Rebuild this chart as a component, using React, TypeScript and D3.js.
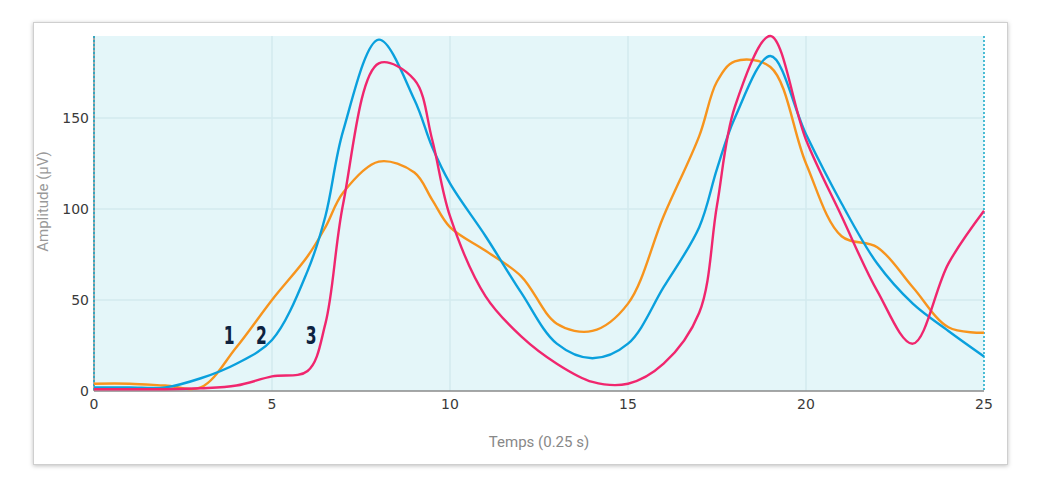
import React, { useEffect, useRef } from 'react';
import * as d3 from 'd3';

const WIDTH = 1043;
const HEIGHT = 494;

const times = [0, 1, 2, 3, 4, 5, 6, 6.5, 7, 8, 9, 9.5, 10, 11, 12, 13, 14, 15, 16, 17, 17.5, 18, 19, 20, 21, 22, 23, 24, 25];
const series1 = [4, 4, 3, 2, 24, 50, 74, 90, 109, 126, 120, 105, 90, 77, 63, 37, 33, 48, 96, 140, 170, 181, 178, 125, 85, 79, 57, 35, 32];
const series2 = [2, 2, 2, 7, 15, 28, 66, 96, 143, 193, 160, 134, 114, 85, 54, 26, 18, 26, 57, 90, 122, 150, 184, 141, 103, 70, 48, 33, 19];
const series3 = [1, 1, 1, 1.5, 3, 8, 11, 37, 103, 180, 171, 138, 96, 52, 30, 15, 5, 4, 15, 43, 102, 156, 195, 138, 96, 55, 26, 70, 99];
const seriesColors = ['#f7941d', '#0aa0dd', '#f0266e'];
const seriesLabels = ['1', '2', '3'];
const labelPos = [3.8, 4.7, 6.1];
const yTicks = [0, 50, 100, 150];
const xTicks = [0, 5, 10, 15, 20, 25];

export default function App() {
  const svgRef = useRef<SVGSVGElement>(null);

  useEffect(() => {
    if (!svgRef.current) return;
    const svg = d3.select(svgRef.current);
    svg.selectAll('*').remove();

    const margin = { left: 94, right: 59, top: 36, bottom: 103 };
    const innerW = WIDTH - margin.left - margin.right;
    const innerH = HEIGHT - margin.top - margin.bottom;

    const x = d3.scaleLinear().domain([0, 25]).range([0, innerW]);
    const y = d3.scaleLinear().domain([0, 195]).range([innerH, 0]);

    // card with shadow
    const defs = svg.append('defs');
    const f = defs.append('filter').attr('id', 'shadow').attr('x', '-5%').attr('y', '-5%').attr('width', '110%').attr('height', '110%');
    f.append('feDropShadow').attr('dx', 0).attr('dy', 1).attr('stdDeviation', 2).attr('flood-color', '#000').attr('flood-opacity', 0.25);
    svg.append('rect')
      .attr('x', 33.5).attr('y', 22.5).attr('width', 974).attr('height', 442)
      .attr('fill', '#fff').attr('stroke', '#cfcfcf').attr('filter', 'url(#shadow)');

    const g = svg.append('g').attr('transform', `translate(${margin.left},${margin.top})`);

    g.append('rect').attr('width', innerW).attr('height', innerH).attr('fill', '#e4f6f9');

    // grid
    g.selectAll('.hgrid').data(yTicks.filter(d => d > 0)).enter().append('line')
      .attr('x1', 0).attr('x2', innerW).attr('y1', d => y(d)).attr('y2', d => y(d))
      .attr('stroke', '#d3eaee').attr('stroke-width', 1.5);
    g.selectAll('.vgrid').data(xTicks.filter(d => d > 0 && d < 25)).enter().append('line')
      .attr('y1', 0).attr('y2', innerH).attr('x1', d => x(d)).attr('x2', d => x(d))
      .attr('stroke', '#d3eaee').attr('stroke-width', 1.5);

    // axes lines
    g.append('line').attr('x1', 0).attr('x2', innerW).attr('y1', innerH).attr('y2', innerH)
      .attr('stroke', '#8a8a8a').attr('stroke-width', 1.5);
    g.append('line').attr('x1', 0).attr('x2', 0).attr('y1', 0).attr('y2', innerH)
      .attr('stroke', '#8a8a8a').attr('stroke-width', 1.5);
    [0, 25].forEach(v => {
      g.append('line').attr('x1', x(v)).attr('x2', x(v)).attr('y1', 0).attr('y2', innerH)
        .attr('stroke', '#13a8c8').attr('stroke-width', 1.5).attr('stroke-dasharray', '2,2');
    });

    // tick labels
    g.selectAll('.ytick').data(yTicks).enter().append('text')
      .attr('x', -5).attr('y', d => y(d)).attr('dy', '0.35em')
      .attr('text-anchor', 'end').attr('font-family', 'DejaVu Sans, Verdana, sans-serif')
      .attr('font-size', 14).attr('fill', '#3a3a3a').text(d => d);
    g.selectAll('.xtick').data(xTicks).enter().append('text')
      .attr('x', d => x(d)).attr('y', innerH + 18)
      .attr('text-anchor', 'middle').attr('font-family', 'DejaVu Sans, Verdana, sans-serif')
      .attr('font-size', 14).attr('fill', '#3a3a3a').text(d => d);

    // axis titles
    g.append('text')
      .attr('transform', `translate(${48 - margin.left},${innerH / 2 - 12}) rotate(-90)`)
      .attr('text-anchor', 'middle').attr('font-family', 'Roboto, sans-serif')
      .attr('font-size', 15).attr('fill', '#999').text('Amplitude (µV)');
    g.append('text')
      .attr('x', innerW / 2).attr('y', innerH + 56)
      .attr('text-anchor', 'middle').attr('font-family', 'Roboto, sans-serif')
      .attr('font-size', 15).attr('fill', '#888').text('Temps (0.25 s)');

    // lines
    const line = d3.line<number>()
      .x((_, i) => x(times[i]))
      .y(d => y(d))
      .curve(d3.curveCatmullRom.alpha(0.5));
    [series1, series2, series3].forEach((s, i) => {
      g.append('path').datum(s).attr('d', line)
        .attr('fill', 'none').attr('stroke', seriesColors[i]).attr('stroke-width', 2.4)
        .attr('stroke-linejoin', 'round');
    });

    // series labels
    const ly = y(26);
    g.selectAll('.slabel').data(seriesLabels).enter().append('text')
      .attr('x', (_, i) => x(labelPos[i])).attr('y', ly)
      .attr('text-anchor', 'middle').attr('font-family', 'DejaVu Sans Condensed, sans-serif')
      .attr('font-weight', 'bold').attr('font-size', 24).attr('fill', '#0d2240')
      .attr('transform', (_, i) => `translate(${x(labelPos[i])},${ly}) scale(0.72,1) translate(${-x(labelPos[i])},${-ly})`)
      .text(d => d);
  }, []);

  return (
    <svg ref={svgRef} width={WIDTH} height={HEIGHT}
      style={{ position: 'absolute', left: 0, top: 0, background: '#fff' }} />
  );
}
